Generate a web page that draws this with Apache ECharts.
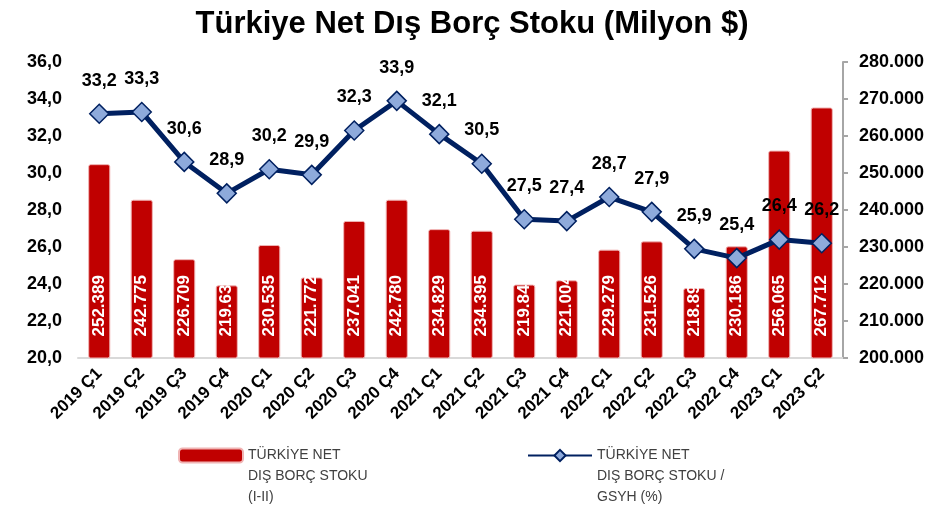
<!DOCTYPE html>
<html>
<head>
<meta charset="utf-8">
<script src="https://cdn.jsdelivr.net/npm/echarts@6/dist/echarts.min.js"></script>
<style>
    html, body {margin: 0; padding: 0; background: #fff;}
    #main {width: 944px; height: 507px;}
</style>
</head>
<body>
<div id="main"></div>
<script>
var categories = ['2019 Ç1', '2019 Ç2', '2019 Ç3', '2019 Ç4', '2020 Ç1', '2020 Ç2', '2020 Ç3', '2020 Ç4',
    '2021 Ç1', '2021 Ç2', '2021 Ç3', '2021 Ç4', '2022 Ç1', '2022 Ç2', '2022 Ç3', '2022 Ç4', '2023 Ç1', '2023 Ç2'];
// milyon $
var stokValues = [252389, 242775, 226709, 219634, 230535, 221772, 237041, 242780, 234829,
    234395, 219842, 221004, 229279, 231526, 218893, 230186, 256065, 267712];
// GSYH %
var oranValues = [33.2, 33.3, 30.6, 28.9, 30.2, 29.9, 32.3, 33.9, 32.1,
    30.5, 27.5, 27.4, 28.7, 27.9, 25.9, 25.4, 26.4, 26.2];

var barName = 'TÜRKİYE NET\nDIŞ BORÇ STOKU\n(I-II)';
var lineName = 'TÜRKİYE NET\nDIŞ BORÇ STOKU /\nGSYH (%)';

function binlik(v) {
    return String(Math.round(v)).replace(/\B(?=(\d{3})+(?!\d))/g, '.');
}
function virgul(v) {
    return v.toFixed(1).replace('.', ',');
}

var font = 'Liberation Sans, Arial, sans-serif';
var chart = echarts.init(document.getElementById('main'));

// legend metni ikonun hizasinda baslasin diye basa iki bos satir
var legendText = {fontFamily: font, fontSize: 14, color: '#404040', lineHeight: 21};
function legendFmt(name) { return '\n\n' + name; }

var option = {
    textStyle: {fontFamily: font},
    title: {
        text: 'Türkiye Net Dış Borç Stoku (Milyon $)',
        left: 'center',
        top: 4,
        textStyle: {fontFamily: font, fontSize: 31, fontWeight: 'bold', color: '#000'}
    },
    legend: [
        {
            data: [barName],
            left: 173, top: 398,
            itemWidth: 64, itemHeight: 14, itemGap: 4,
            formatter: legendFmt,
            textStyle: legendText
        },
        {
            data: [lineName],
            left: 522, top: 398,
            itemWidth: 64, itemHeight: 14,
            formatter: legendFmt,
            textStyle: legendText
        }
    ],
    grid: {left: 78, right: 101, top: 62, bottom: 149},
    xAxis: {
        type: 'category',
        data: categories,
        axisLine: {lineStyle: {color: '#d9d9d9', width: 2}},
        axisTick: {show: false},
        axisLabel: {
            interval: 0, rotate: 45, margin: 13,
            fontFamily: font, fontSize: 17, fontWeight: 'bold', color: '#000'
        }
    },
    yAxis: [
        {
            type: 'value',
            min: 20, max: 36, interval: 2,
            splitLine: {show: false},
            axisLine: {show: false},
            axisTick: {show: false},
            axisLabel: {
                formatter: virgul, margin: 16,
                fontFamily: font, fontSize: 18, fontWeight: 'bold', color: '#000'
            }
        },
        {
            type: 'value',
            min: 200000, max: 280000, interval: 10000,
            splitLine: {show: false},
            axisLine: {show: true, lineStyle: {color: '#a6a6a6', width: 2}},
            axisTick: {show: true, length: 5, lineStyle: {color: '#a6a6a6', width: 2}},
            axisLabel: {
                formatter: binlik, margin: 16,
                fontFamily: font, fontSize: 18, fontWeight: 'bold', color: '#000'
            }
        }
    ],
    series: [
        {
            name: barName,
            type: 'bar',
            yAxisIndex: 1,
            data: stokValues,
            barWidth: '52%',
            itemStyle: {
                color: '#C00000',
                borderColor: '#f0b4b4',
                borderWidth: 1,
                borderRadius: 2
            },
            label: {
                show: true,
                position: 'insideBottom',
                rotate: 90,
                align: 'left',
                verticalAlign: 'middle',
                distance: 22,
                formatter: function (p) { return binlik(p.value); },
                fontFamily: font, fontSize: 17, fontWeight: 'bold', color: '#fff'
            }
        },
        {
            name: lineName,
            type: 'line',
            yAxisIndex: 0,
            data: oranValues,
            z: 5,
            symbol: 'diamond',
            symbolSize: 19,
            lineStyle: {color: '#002060', width: 5},
            itemStyle: {color: '#8eaadb', borderColor: '#002060', borderWidth: 1.5},
            label: {
                show: true,
                position: 'top',
                distance: 14,
                formatter: function (p) { return virgul(p.value); },
                fontFamily: font, fontSize: 18, fontWeight: 'bold', color: '#000'
            }
        }
    ]
};
chart.setOption(option);
</script>
</body>
</html>
